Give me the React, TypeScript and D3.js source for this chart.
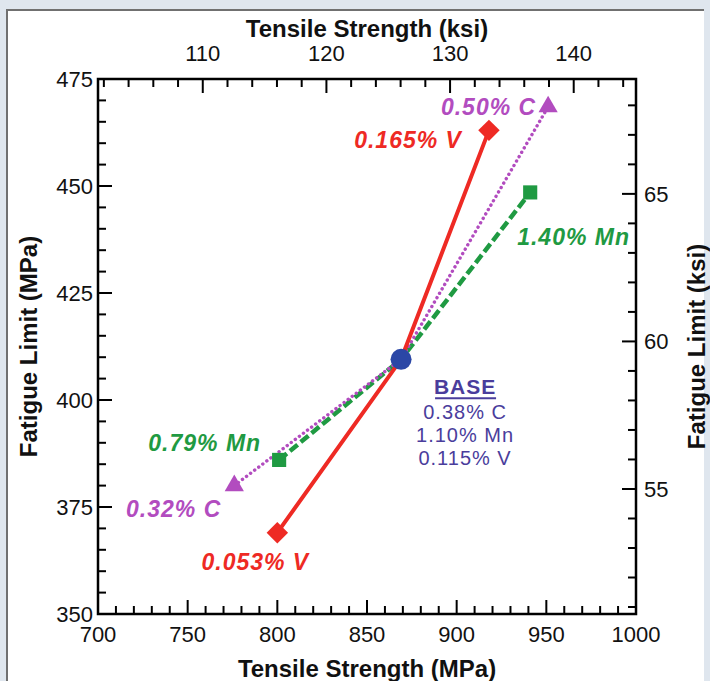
import React from "react";
import * as d3 from "d3";

// MPa per ksi
const KSI = 6.894757;

const baseStrength = 869;
const baseFatigue = 409.5;
const baseLabels = ["0.38% C", "1.10% Mn", "0.115% V"];

// low / high variants, each joined through the base steel
const vStrength = [800, 918];
const vFatigue = [369, 463];
const vLabels = ["0.053% V", "0.165% V"];

const cStrength = [776, 951];
const cFatigue = [380, 468.5];
const cLabels = ["0.32% C", "0.50% C"];

const mnStrength = [801, 941];
const mnFatigue = [386, 448.5];
const mnLabels = ["0.79% Mn", "1.40% Mn"];

const mpaTicksX = [700, 750, 800, 850, 900, 950, 1000];
const mpaTicksY = [350, 375, 400, 425, 450, 475];
const ksiTicksX = [110, 120, 130, 140];
const ksiTicksY = [55, 60, 65];

const W = 710;
const H = 681;
const font = "'Liberation Sans', Arial, Helvetica, sans-serif";

const RED = "#ee2a24";
const MAGENTA = "#b24cbf";
const GREEN = "#1f9a42";
const BLUE = "#2b47a6";
const BASE_TXT = "#4a3d9c";

export default function App() {
  const x = d3.scaleLinear().domain([700, 1000]).range([98, 636]);
  const y = d3.scaleLinear().domain([350, 475]).range([614, 79]);
  const xk = d3.scaleLinear().domain([700 / KSI, 1000 / KSI]).range([98, 636]);
  const yk = d3.scaleLinear().domain([350 / KSI, 475 / KSI]).range([614, 79]);

  const [x0, x1] = x.range();
  const [y0, y1] = y.range(); // y0 bottom, y1 top

  const line = d3
    .line<[number, number]>()
    .x((d) => x(d[0]))
    .y((d) => y(d[1]));

  const pathOf = (s: number[], f: number[]) =>
    line([
      [s[0], f[0]],
      [baseStrength, baseFatigue],
      [s[1], f[1]],
    ]) as string;

  const minorX = d3.range(700, 1001, 10);
  const minorY = d3.range(350, 476, 5);
  const minorKx = d3.range(102, 146, 2);
  const minorKy = d3.range(51, 69, 1);

  const tri = d3.symbol(d3.symbolTriangle, 160)() as string;
  const sq = d3.symbol(d3.symbolSquare, 200)() as string;
  const dia = d3.symbol(d3.symbolSquare, 230)() as string;

  const lab = {
    fontFamily: font,
    fontWeight: "bold",
    fontStyle: "italic",
    fontSize: 23,
    letterSpacing: 1,
  } as const;

  const bx = x(baseStrength);
  const by = y(baseFatigue);

  return (
    <svg
      width={W}
      height={H}
      style={{ position: "absolute", left: 0, top: 0, display: "block" }}
    >
      <rect x={0} y={0} width={W} height={H} fill="#dfe6ee" />
      <rect x={7} y={10} width={697} height={H} fill="#ffffff" />
      <path d={`M7,${H}V10H704`} fill="none" stroke="#707070" strokeWidth={2} />

      {/* ticks */}
      <g stroke="#000" strokeWidth={2}>
        {minorX.map((t) => {
          const len = t % 50 === 0 ? 14 : 8;
          return <line key={"bx" + t} x1={x(t)} x2={x(t)} y1={y0} y2={y0 - len} />;
        })}
        {minorY.map((t) => {
          const len = t % 25 === 0 ? 14 : 8;
          return <line key={"ly" + t} x1={x0} x2={x0 + len} y1={y(t)} y2={y(t)} />;
        })}
        {minorKx.map((t) => {
          const len = t % 10 === 0 ? 14 : 8;
          return <line key={"tx" + t} x1={xk(t)} x2={xk(t)} y1={y1} y2={y1 + len} />;
        })}
        {minorKy.map((t) => {
          const len = t % 5 === 0 ? 14 : 8;
          return <line key={"ry" + t} x1={x1} x2={x1 - len} y1={yk(t)} y2={yk(t)} />;
        })}
      </g>
      <rect x={x0} y={y1} width={x1 - x0} height={y0 - y1} fill="none" stroke="#000" strokeWidth={2.5} />

      {/* tick labels */}
      <g fontFamily={font} fontSize={22} fill="#111">
        {mpaTicksX.map((t) => (
          <text key={"bl" + t} x={x(t)} y={y0 + 28} textAnchor="middle">
            {t}
          </text>
        ))}
        {mpaTicksY.map((t) => (
          <text key={"ll" + t} x={x0 - 5} y={y(t) + 8} textAnchor="end">
            {t}
          </text>
        ))}
        {ksiTicksX.map((t) => (
          <text key={"tl" + t} x={xk(t)} y={y1 - 18} textAnchor="middle">
            {t}
          </text>
        ))}
        {ksiTicksY.map((t) => (
          <text key={"rl" + t} x={x1 + 8} y={yk(t) + 8} textAnchor="start">
            {t}
          </text>
        ))}
      </g>

      {/* axis titles */}
      <g fontFamily={font} fontSize={24} fontWeight="bold" fill="#111" textAnchor="middle">
        <text x={(x0 + x1) / 2} y={37}>Tensile Strength (ksi)</text>
        <text x={(x0 + x1) / 2} y={677}>Tensile Strength (MPa)</text>
        <text transform={`translate(37,${(y0 + y1) / 2}) rotate(-90)`}>Fatigue Limit (MPa)</text>
        <text transform={`translate(705,${(y0 + y1) / 2}) rotate(-90)`}>Fatigue Limit (ksi)</text>
      </g>

      {/* lines */}
      <path d={pathOf(mnStrength, mnFatigue)} fill="none" stroke={GREEN} strokeWidth={4.5} strokeDasharray="10 4" />
      <path
        d={pathOf(cStrength, cFatigue)}
        fill="none"
        stroke={MAGENTA}
        strokeWidth={3.4}
        strokeDasharray="0.1 5"
        strokeLinecap="round"
      />
      <path d={pathOf(vStrength, vFatigue)} fill="none" stroke={RED} strokeWidth={4} />

      {/* markers */}
      {vStrength.map((s, i) => (
        <path
          key={"vm" + i}
          d={dia}
          transform={`translate(${x(s)},${y(vFatigue[i])}) rotate(45)`}
          fill={RED}
        />
      ))}
      {cStrength.map((s, i) => (
        <path key={"cm" + i} d={tri} transform={`translate(${x(s)},${y(cFatigue[i])})`} fill={MAGENTA} />
      ))}
      {mnStrength.map((s, i) => (
        <path key={"mm" + i} d={sq} transform={`translate(${x(s)},${y(mnFatigue[i])})`} fill={GREEN} />
      ))}
      <circle cx={bx} cy={by} r={10.5} fill={BLUE} />

      {/* annotations */}
      <text {...lab} fill={RED} x={x(vStrength[1]) - 27} y={y(vFatigue[1]) + 18} textAnchor="end">
        {vLabels[1]}
      </text>
      <text {...lab} fill={RED} x={x(vStrength[0]) - 22} y={y(vFatigue[0]) + 37} textAnchor="middle">
        {vLabels[0]}
      </text>
      <text {...lab} fill={MAGENTA} x={x(cStrength[1]) - 12} y={y(cFatigue[1]) + 8} textAnchor="end">
        {cLabels[1]}
      </text>
      <text {...lab} fill={MAGENTA} x={x(cStrength[0]) - 13} y={y(cFatigue[0]) + 31} textAnchor="end">
        {cLabels[0]}
      </text>
      <text {...lab} fill={GREEN} x={x(mnStrength[1]) - 13} y={y(mnFatigue[1]) + 53} textAnchor="start">
        {mnLabels[1]}
      </text>
      <text {...lab} fill={GREEN} x={x(mnStrength[0]) - 18} y={y(mnFatigue[0]) - 9} textAnchor="end">
        {mnLabels[0]}
      </text>

      <g fontFamily={font} fontSize={20} fill={BASE_TXT} textAnchor="middle" letterSpacing={1}>
        <text x={bx + 64} y={by + 35} fontWeight="bold" fontSize={21}>
          BASE
        </text>
        <line x1={bx + 34} x2={bx + 95} y1={by + 39} y2={by + 39} stroke={BASE_TXT} strokeWidth={2} />
        {baseLabels.map((t, i) => (
          <text key={t} x={bx + 64} y={by + 60 + i * 23}>
            {t}
          </text>
        ))}
      </g>
    </svg>
  );
}
